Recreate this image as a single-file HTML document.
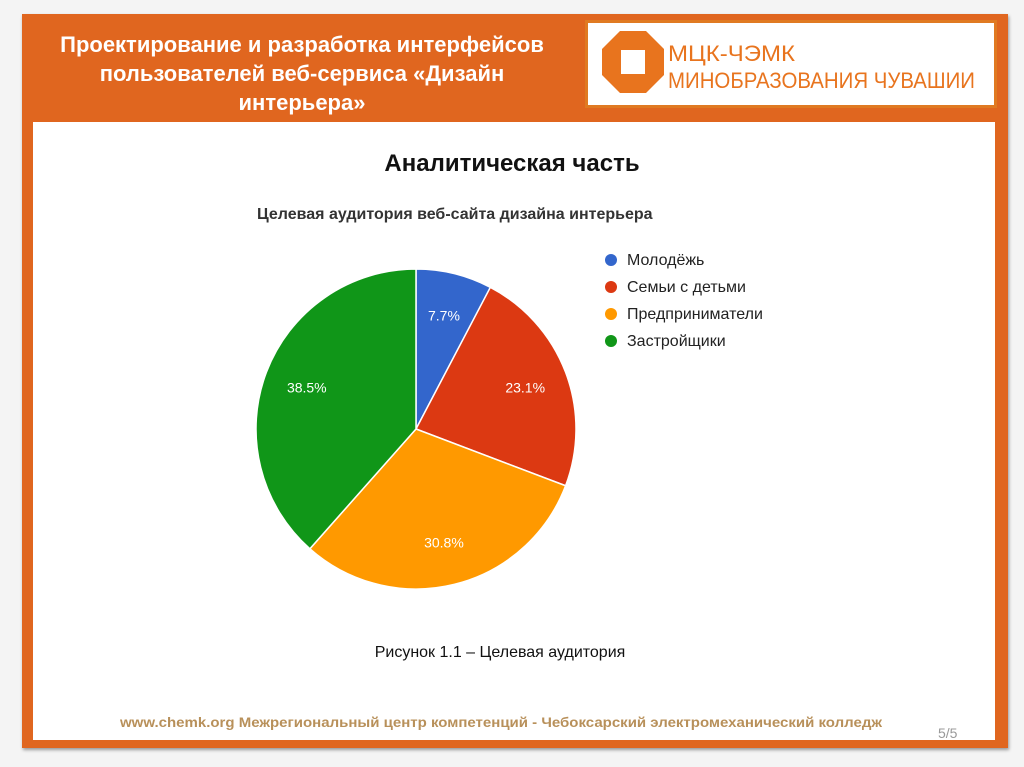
<!DOCTYPE html>
<html><head><meta charset="utf-8">
<style>
body{margin:0;width:1024px;height:767px;background:#f4f4f4;position:relative;overflow:hidden;font-family:"Liberation Sans","Noto Sans CJK SC",sans-serif}
#frame{position:absolute;left:22px;top:14px;width:986px;height:734px;background:#e0661f;box-shadow:1px 2px 3px #999}
#inner{position:absolute;left:33px;top:122px;width:962px;height:618px;background:#fff}
#title{position:absolute;left:42px;top:30px;width:520px;color:#fff;font-weight:bold;font-size:22px;line-height:29px;text-align:center}
#logo{position:absolute;left:585px;top:20px;width:412px;height:88px;background:#fff;border:3px solid #e07a22;box-sizing:border-box}
</style></head><body>
<div id="frame"></div>
<div id="inner"></div>
<div id="title">Проектирование и разработка интерфейсов пользователей веб-сервиса «Дизайн интерьера»</div>
<div id="logo">
<svg width="406" height="82">
<polygon points="32,8 58,8 76,26 76,52 58,70 32,70 14,52 14,26" fill="#e8741e"/>
<rect x="33" y="27" width="24" height="24" fill="#fff"/>
<text x="80" y="38" font-size="22" fill="#e8741e" font-family="Liberation Sans, sans-serif" textLength="127" lengthAdjust="spacingAndGlyphs">МЦК-ЧЭМК</text>
<text x="80" y="65" font-size="22" fill="#e8741e" font-family="Liberation Sans, sans-serif" textLength="307" lengthAdjust="spacingAndGlyphs">МИНОБРАЗОВАНИЯ ЧУВАШИИ</text>
</svg></div>
<div style="position:absolute;left:0;width:1024px;top:150px;text-align:center;font-size:24px;font-weight:bold;color:#111">Аналитическая часть</div>
<svg id="chart" width="1024" height="767" style="position:absolute;left:0;top:0">
<text x="257" y="219" font-size="16" font-weight="bold" fill="#333" font-family="Liberation Sans, sans-serif">Целевая аудитория веб-сайта дизайна интерьера</text>
<g id="slices"></g><g id="legend"></g>
<text x="120" y="727" font-size="14" font-weight="bold" fill="#b8905a" font-family="Liberation Sans, sans-serif" textLength="762" lengthAdjust="spacingAndGlyphs">www.chemk.org    Межрегиональный центр компетенций - Чебоксарский электромеханический колледж</text>
</svg>
<div style="position:absolute;left:0;width:1000px;top:644px;text-align:center;font-size:16px;color:#111">Рисунок 1.1 – Целевая аудитория</div>
<div style="position:absolute;left:938px;top:725px;font-size:14px;color:#999">5/5</div>
<script>
const categories=["Молодёжь","Семьи с детьми","Предприниматели","Застройщики"];
const values=[7.7,23.1,30.8,38.5];
const colors=["#3366cc","#dc3912","#ff9900","#109618"];
const NS="http://www.w3.org/2000/svg";
const cx=416,cy=429,r=160;
const total=values.reduce((a,b)=>a+b,0);
const sg=document.getElementById('slices'),lg=document.getElementById('legend');
function pt(a,rr){return [cx+rr*Math.sin(a),cy-rr*Math.cos(a)];}
let a0=0;
values.forEach((v,i)=>{
 const a1=a0+v/total*2*Math.PI;
 const p0=pt(a0,r),p1=pt(a1,r);
 const p=document.createElementNS(NS,'path');
 p.setAttribute('d',`M${cx},${cy}L${p0[0]},${p0[1]}A${r},${r} 0 ${a1-a0>Math.PI?1:0} 1 ${p1[0]},${p1[1]}Z`);
 p.setAttribute('fill',colors[i]);p.setAttribute('stroke','#fff');p.setAttribute('stroke-width','1.5');
 
 
 sg.appendChild(p);
 const m=(a0+a1)/2,lp=pt(m,r*0.73);
 const t=document.createElementNS(NS,'text');
 t.setAttribute('x',lp[0]);t.setAttribute('y',lp[1]+5);t.setAttribute('text-anchor','middle');
 t.setAttribute('fill','#fff');t.setAttribute('font-size','14');t.setAttribute('font-family','Liberation Sans, sans-serif');
 t.textContent=v.toFixed(1)+'%';
 
 
 sg.appendChild(t);
 a0=a1;
 const c=document.createElementNS(NS,'circle');
 c.setAttribute('cx',611);c.setAttribute('cy',260+i*27);c.setAttribute('r',6);c.setAttribute('fill',colors[i]);
 
 
 lg.appendChild(c);
 const lt=document.createElementNS(NS,'text');
 lt.setAttribute('x',627);lt.setAttribute('y',265+i*27);lt.setAttribute('font-size','16');lt.setAttribute('fill','#222');
 lt.setAttribute('font-family','Liberation Sans, sans-serif');lt.textContent=categories[i];
 
 
 lg.appendChild(lt);
});
</script>
</body></html>
